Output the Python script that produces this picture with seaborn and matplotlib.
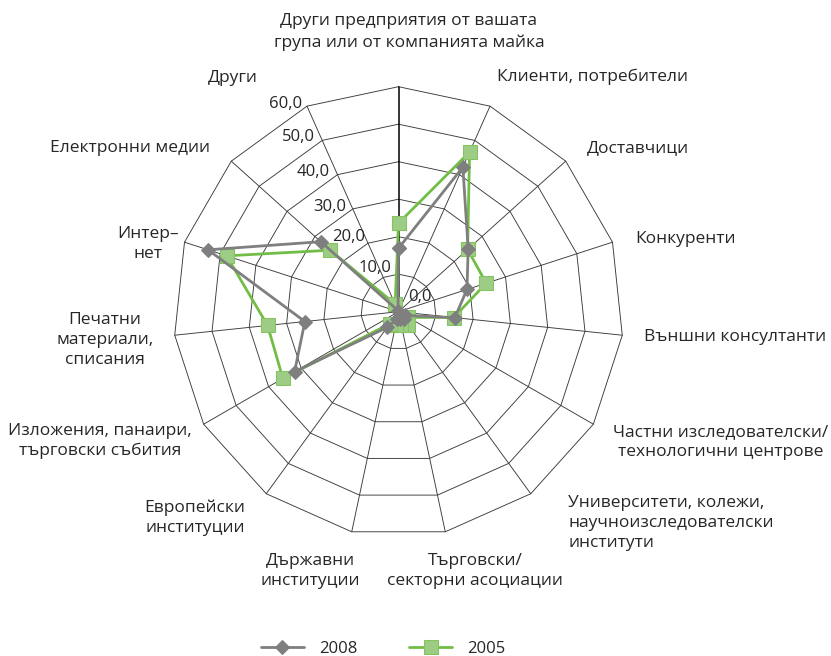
import numpy as np
import pandas as pd
import matplotlib
matplotlib.use("Agg")
import matplotlib.pyplot as plt
import seaborn as sns

categories = [
    "Други предприятия от вашата\nгрупа или от компанията майка",
    "Клиенти, потребители",
    "Доставчици",
    "Конкуренти",
    "Външни консултанти",
    "Частни изследователски/\nтехнологични центрове",
    "Университети, колежи,\nнаучноизследователски\nинститути",
    "Търговски/\nсекторни асоциации",
    "Държавни\nинституции",
    "Европейски\nинституции",
    "Изложения, панаири,\nтърговски събития",
    "Печатни\nматериали,\nсписания",
    "Интер–\nнет",
    "Електронни медии",
    "Други",
]
values_2008 = [16.9, 42.2, 25.0, 19.2, 15.1, 2.0, 2.5, 2.0, 2.0, 5.2, 32.0, 25.1, 53.4, 27.9, 0.3]
values_2005 = [23.6, 46.6, 24.8, 24.6, 14.8, 3.0, 4.4, 3.5, 3.6, 4.0, 35.6, 35.1, 48.2, 24.5, 2.2]
ring_values = [0, 10, 20, 30, 40, 50, 60]
ring_labels = ["0,0", "10,0", "20,0", "30,0", "40,0", "50,0", "60,0"]
series_names = ["2008", "2005"]

sns.set_theme(style="white")
plt.rcParams["font.family"] = ["Open Sans", "DejaVu Sans"]

W, H = 831, 656
fig = plt.figure(figsize=(W / 100, H / 100), dpi=100)
cx, cy, R = 398.5, 311.7, 225.0
ax = fig.add_axes([(cx - R) / W, (H - cy - R) / H, 2 * R / W, 2 * R / H], projection="polar")
ax.set_theta_zero_location("N")
ax.set_theta_direction(-1)
ax.set_ylim(0, 60)
ax.grid(False)
ax.spines["polar"].set_visible(False)
ax.set_xticks([])
ax.set_yticks([])
ax.patch.set_alpha(0)

n = len(categories)
theta = np.linspace(0, 2 * np.pi, n, endpoint=False)
theta_closed = np.append(theta, 2 * np.pi)

grid_color = "#3a3a3a"
for rv in ring_values[1:]:
    ax.plot(theta_closed, [rv] * (n + 1), color=grid_color, lw=0.65, zorder=1, clip_on=False)
for i, t in enumerate(theta):
    ax.plot([t, t], [0, 60], color="black" if i == 0 else grid_color,
            lw=1.1 if i == 0 else 0.65, zorder=1, clip_on=False)

df = pd.DataFrame({
    "theta": np.concatenate([theta_closed, theta_closed]),
    "value": values_2008 + values_2008[:1] + values_2005 + values_2005[:1],
    "year": [series_names[0]] * (n + 1) + [series_names[1]] * (n + 1),
})

styles = {
    "2008": dict(color="#7f7f7f", marker="D", markersize=7.5, markerfacecolor="#7f7f7f",
                 markeredgecolor="#7f7f7f", zorder=4),
    "2005": dict(color="#72bd45", marker="s", markersize=9.5, markerfacecolor="#9dcd85",
                 markeredgecolor="#84c45f", zorder=3),
}
for name in ["2005", "2008"]:
    sub = df[df["year"] == name]
    sns.lineplot(data=sub, x="theta", y="value", ax=ax, sort=False, lw=2.0,
                 label=name, clip_on=False, **styles[name])

# value axis labels along the "Други" spoke (offsets in pixels from the ring vertex)
tick_offsets = [(10, 15), (8, 9), (-3, 6.5), (-6, 2.3), (-7.5, 3), (-7, 3.4), (-5, 2)]
for rv, lab, off in zip(ring_values, ring_labels, tick_offsets):
    if rv == 0:
        ax.annotate(lab, xy=(0, 0), xytext=off, textcoords="offset pixels",
                    ha="left", va="center", fontsize=12, color="#262626")
    else:
        ax.annotate(lab, xy=(theta[-1], rv), xytext=off, textcoords="offset pixels",
                    ha="right", va="center", fontsize=12, color="#262626")

# category labels
label_pos = [
    (409, 32, "center"), (497, 77, "left"), (587, 148, "left"), (635, 239, "left"),
    (826, 337, "right"), (721, 442, "center"), (568, 523, "left"), (475, 571, "center"),
    (310, 571, "center"), (195, 518, "center"), (100, 441, "center"), (105, 340, "center"),
    (148, 244, "center"), (210, 148, "right"), (258, 78, "right"),
]
for lab, (x, y, ha) in zip(categories, label_pos):
    fig.text(x / W, 1 - y / H, lab, ha=ha, va="center", multialignment=ha,
             fontsize=12.5, color="#262626", linespacing=1.37)

handles, labels = ax.get_legend_handles_labels()
order = [labels.index("2008"), labels.index("2005")]
leg = fig.legend([handles[i] for i in order], [labels[i] for i in order],
                 loc="center", bbox_to_anchor=(383 / W, 1 - 649 / H), ncol=2,
                 frameon=False, fontsize=12, handlelength=2.6, columnspacing=3.1,
                 handletextpad=0.9)
for t in leg.get_texts():
    t.set_color("#262626")
if ax.get_legend():
    ax.get_legend().remove()

fig.savefig("out.png", dpi=100)
